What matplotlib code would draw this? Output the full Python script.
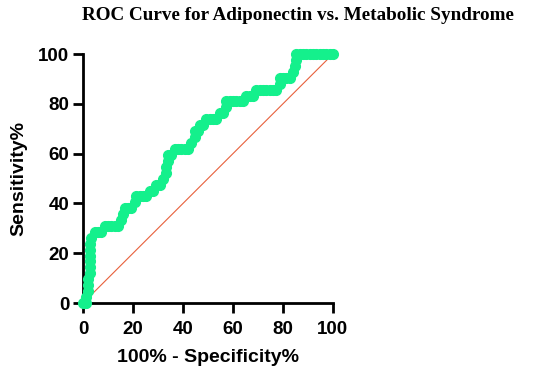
import matplotlib
matplotlib.use("Agg")
import matplotlib.pyplot as plt

# ROC points (100% - specificity, sensitivity)
fpr = [0, 0.7, 1.3, 1.3, 2, 2, 2, 2.7, 2.7, 2.7, 2.7, 2.7, 2.7,
       3.3, 4.7, 6, 7.3, 8.7, 10, 11.3, 12.7, 14, 15.3, 16, 16.7, 18, 19.3,
       20.7, 21.3, 22.7, 24, 25.3, 26.7, 28, 29.3, 30.7, 32, 33.3, 33.3, 34, 34,
       35.3, 36.7, 38, 39.3, 40.7, 42, 43.3, 44.7, 44.7, 46, 46.7, 48, 49.3,
       50.7, 52, 53.3, 54.7, 56, 57.3, 57.3, 58.7, 60, 61.3, 62.7, 64, 65.3,
       66.7, 68, 69.3, 70.7, 72, 73.3, 74.7, 76, 77.3, 78.7, 78.7, 80, 81.3,
       82.7, 84, 84.7, 85.3, 85.3, 86.7, 88, 89.3, 90.7, 92, 93.3, 94.7, 96,
       97.3, 98.7, 100]
tpr = [0, 0, 0, 2.4, 4.8, 7.1, 9.5, 11.9, 14.3, 16.7, 19, 21.4, 23.8,
       26.2, 28.6, 28.6, 28.6, 31, 31, 31, 31, 31, 33.3, 35.7, 38.1, 38.1, 38.1,
       40.5, 42.9, 42.9, 42.9, 42.9, 45.2, 45.2, 47.6, 47.6, 50, 52.4, 54.8, 57.1, 59.5,
       59.5, 61.9, 61.9, 61.9, 61.9, 61.9, 64.3, 66.7, 69, 69, 71.4, 71.4, 73.8,
       73.8, 73.8, 73.8, 76.2, 76.2, 78.6, 81, 81, 81, 81, 81, 81, 83.3,
       83.3, 83.3, 85.7, 85.7, 85.7, 85.7, 85.7, 85.7, 85.7, 88.1, 90.5, 90.5, 90.5,
       90.5, 92.9, 95.2, 97.6, 100, 100, 100, 100, 100, 100, 100, 100, 100,
       100, 100, 100]

ticks = [0, 20, 40, 60, 80, 100]

fig = plt.figure(figsize=(5.5, 3.76), dpi=100)
ax = fig.add_axes([0.151, 0.194, 0.454, 0.662])

# reference line
ax.plot([0, 100], [0, 100], color='#E8603C', lw=0.8, zorder=2)

# ROC curve
ax.plot(fpr, tpr, color='#14F08C', lw=2, marker='o', markersize=7,
        clip_on=False, zorder=3)

ax.set_xlim(0, 100)
ax.set_ylim(0, 100)
ax.set_xticks(ticks)
ax.set_yticks(ticks)

for s in ['top', 'right']:
    ax.spines[s].set_visible(False)
for s in ['left', 'bottom']:
    ax.spines[s].set_linewidth(2)

ax.tick_params(direction='out', length=7, width=2, labelsize=13.5)
ax.tick_params(axis='x', pad=6)
ax.tick_params(axis='y', pad=3)
for lab in ax.get_xticklabels() + ax.get_yticklabels():
    lab.set_fontweight('bold')
    lab.set_fontfamily('Liberation Sans')

ax.set_xlabel('100% - Specificity%', fontsize=14, fontweight='bold',
              fontfamily='Liberation Sans', labelpad=8)
ax.set_ylabel('Sensitivity%', fontsize=14, fontweight='bold',
              fontfamily='Liberation Sans', labelpad=8)

fig.text(0.542, 0.958, 'ROC Curve for Adiponectin vs. Metabolic Syndrome',
         ha='center', va='center', fontsize=13.8, fontweight='bold',
         fontfamily='Liberation Serif')

fig.savefig('out.png', dpi=100)
